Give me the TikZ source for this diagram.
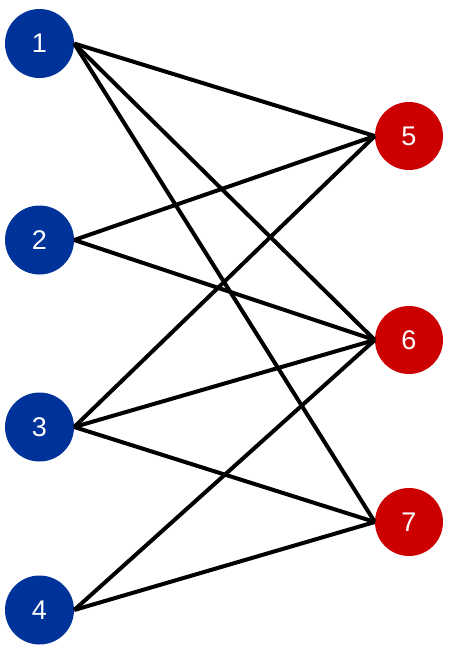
\documentclass[tikz,border=0pt]{standalone}
\usepackage{fontspec}
\setmainfont{Liberation Sans}
\definecolor{nblue}{RGB}{0,51,153}
\definecolor{nred}{RGB}{204,0,0}
\begin{document}
\begin{tikzpicture}[x=1pt,y=-1pt,
  bnode/.style={circle,fill=nblue,minimum size=69pt,inner sep=0pt,text=white,font=\fontsize{27}{30}\selectfont},
  rnode/.style={circle,fill=nred,minimum size=68pt,inner sep=0pt,text=white,font=\fontsize{27}{30}\selectfont},
  edge/.style={line width=4pt,black}]
\useasboundingbox (0,0) rectangle (451,651);
\node[bnode] (n1) at (39.5,43.5) {1};
\node[bnode] (n2) at (39.5,240) {2};
\node[bnode] (n3) at (39.5,427) {3};
\node[bnode] (n4) at (39.5,610) {4};
\node[rnode] (n5) at (409,136) {5};
\node[rnode] (n6) at (409,340) {6};
\node[rnode] (n7) at (409,522) {7};
\draw[edge] (n1.east) -- (n5.west);
\draw[edge] (n1.east) -- (n6.west);
\draw[edge] (n1.east) -- (n7.west);
\draw[edge] (n2.east) -- (n5.west);
\draw[edge] (n2.east) -- (n6.west);
\draw[edge] (n3.east) -- (n5.west);
\draw[edge] (n3.east) -- (n6.west);
\draw[edge] (n3.east) -- (n7.west);
\draw[edge] (n4.east) -- (n6.west);
\draw[edge] (n4.east) -- (n7.west);
\end{tikzpicture}
\end{document}
